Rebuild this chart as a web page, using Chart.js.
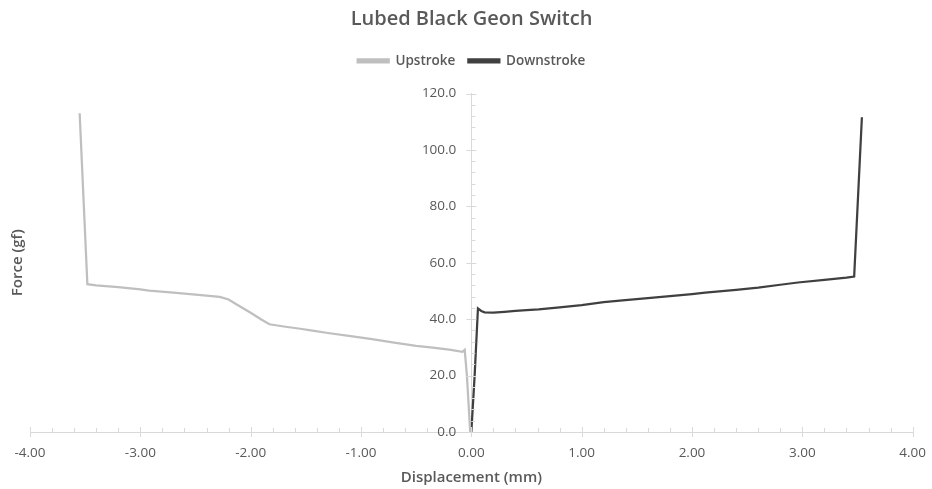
<!DOCTYPE html>
<html>
<head>
<meta charset="utf-8">
<script src="https://cdn.jsdelivr.net/npm/chart.js@4"></script>
<style>
html,body{margin:0;padding:0;background:#fff;}
#wrap{width:932px;height:489px;}
</style>
</head>
<body>
<div id="wrap"><canvas id="c" width="932" height="489"></canvas></div>
<script>
const chartTitle = 'Lubed Black Geon Switch';
const seriesNames = ['Upstroke', 'Downstroke'];
const xTitle = 'Displacement (mm)';
const yTitle = 'Force (gf)';

const upX = [-3.55, -3.48, -3.40, -3.20, -3.00, -2.92, -2.70, -2.50, -2.28, -2.20, -2.13, -2.00, -1.90, -1.83, -1.70, -1.55, -1.44, -1.30, -1.11, -0.90, -0.70, -0.50, -0.35, -0.20, -0.08, -0.06, -0.04, -0.01];
const upY = [113.0, 52.4, 52.0, 51.4, 50.6, 50.1, 49.4, 48.7, 47.9, 47.0, 45.3, 42.3, 39.8, 38.2, 37.4, 36.6, 35.9, 35.1, 34.1, 32.9, 31.7, 30.5, 29.9, 29.2, 28.4, 29.1, 20.0, 0.0];

const downX = [0.00, 0.03, 0.06, 0.09, 0.12, 0.20, 0.30, 0.40, 0.50, 0.61, 0.80, 1.00, 1.20, 1.37, 1.60, 1.80, 2.00, 2.12, 2.40, 2.60, 2.80, 2.96, 3.20, 3.40, 3.47, 3.54];
const downY = [0.0, 20.0, 43.8, 42.9, 42.4, 42.3, 42.6, 42.9, 43.2, 43.5, 44.2, 45.0, 46.0, 46.7, 47.5, 48.2, 48.9, 49.4, 50.4, 51.2, 52.2, 53.0, 53.9, 54.7, 55.1, 111.6];

const xMin = -4, xMax = 4, xStep = 1, xMinor = 0.2;
const yMin = 0, yMax = 120, yStep = 20, yMinor = 4;

const FONT = "'Open Sans', 'Noto Sans', sans-serif";
const TXT = '#595959';
const AX = '#d9d9d9';

const pts = (xs, ys) => xs.map((x, i) => ({x: x, y: ys[i]}));

const ticksPlugin = {
  id: 'minorTicks',
  afterDraw(chart) {
    const ctx = chart.ctx;
    const xs = chart.scales.x, ys = chart.scales.y;
    const y0 = ys.getPixelForValue(0);
    const x0 = xs.getPixelForValue(0);
    ctx.save();
    ctx.strokeStyle = AX;
    ctx.lineWidth = 1;
    ctx.beginPath();
    const nx = Math.round((xMax - xMin) / xMinor);
    for (let i = 0; i <= nx; i++) {
      const v = xMin + i * xMinor;
      const p = Math.round(xs.getPixelForValue(v)) + 0.5;
      const major = (i % Math.round(xStep / xMinor)) === 0;
      if (major) { ctx.moveTo(p, y0 - 5); ctx.lineTo(p, y0 + 5); }
      else { ctx.moveTo(p, y0 - 4); ctx.lineTo(p, y0); }
    }
    const ny = Math.round((yMax - yMin) / yMinor);
    for (let i = 0; i <= ny; i++) {
      const v = yMin + i * yMinor;
      const p = Math.round(ys.getPixelForValue(v)) + 0.5;
      const major = (i % Math.round(yStep / yMinor)) === 0;
      if (major) { ctx.moveTo(x0 - 5, p); ctx.lineTo(x0 + 5, p); }
      else { ctx.moveTo(x0, p); ctx.lineTo(x0 + 4, p); }
    }
    ctx.stroke();
    // y tick labels, from the y scale's own ticks
    ctx.fillStyle = TXT;
    ctx.font = "13.5px " + FONT;
    ctx.textAlign = 'right';
    ctx.textBaseline = 'middle';
    ys.ticks.forEach(t => {
      ctx.fillText(Number(t.value).toFixed(1), x0 - 15, ys.getPixelForValue(t.value));
    });
    // y-axis title
    ctx.font = "600 15px " + FONT;
    ctx.textAlign = 'center';
    ctx.translate(18, (chart.chartArea.top + chart.chartArea.bottom) / 2);
    ctx.rotate(-Math.PI / 2);
    ctx.fillText(yTitle, 0, 0);
    ctx.restore();
  }
};

const legendSpace = {
  id: 'legendSpace',
  beforeInit(chart) {
    const fit = chart.legend.fit;
    chart.legend.fit = function () {
      fit.bind(this)();
      this.height += 16;
    };
  }
};

new Chart(document.getElementById('c'), {
  type: 'scatter',
  data: {
    datasets: [
      {label: seriesNames[0], data: pts(upX, upY), showLine: true, borderColor: '#bfbfbf', backgroundColor: '#bfbfbf', borderWidth: 2.25, pointRadius: 0, tension: 0},
      {label: seriesNames[1], data: pts(downX, downY), showLine: true, borderColor: '#404040', backgroundColor: '#404040', borderWidth: 2.25, pointRadius: 0, tension: 0}
    ]
  },
  options: {
    responsive: false,
    animation: false,
    layout: {padding: {left: 30, right: 19, top: 0, bottom: 3}},
    plugins: {
      title: {display: true, text: chartTitle, color: TXT, font: {family: FONT, size: 20, weight: '600'}, padding: {top: 7, bottom: 10}},
      legend: {display: true, position: 'top', labels: {color: TXT, font: {family: FONT, size: 13.5, weight: '600'}, boxWidth: 31, boxHeight: 3, padding: 13}},
      tooltip: {enabled: false}
    },
    scales: {
      x: {
        type: 'linear', min: xMin, max: xMax,
        grid: {display: false},
        border: {display: true, color: AX, width: 1},
        ticks: {stepSize: xStep, color: TXT, font: {family: FONT, size: 13.5, lineHeight: 1.0}, padding: 6, maxRotation: 0,
          callback: v => Number(v).toFixed(2)},
        title: {display: true, text: xTitle, color: TXT, font: {family: FONT, size: 15, weight: '600', lineHeight: 1.1}, padding: {top: 4, bottom: 0}}
      },
      y: {
        type: 'linear', min: yMin, max: yMax, position: {x: 0},
        grid: {display: false},
        border: {display: true, color: AX, width: 1},
        ticks: {display: false, stepSize: yStep}
      }
    }
  },
  plugins: [ticksPlugin, legendSpace]
});
</script>
</body>
</html>
